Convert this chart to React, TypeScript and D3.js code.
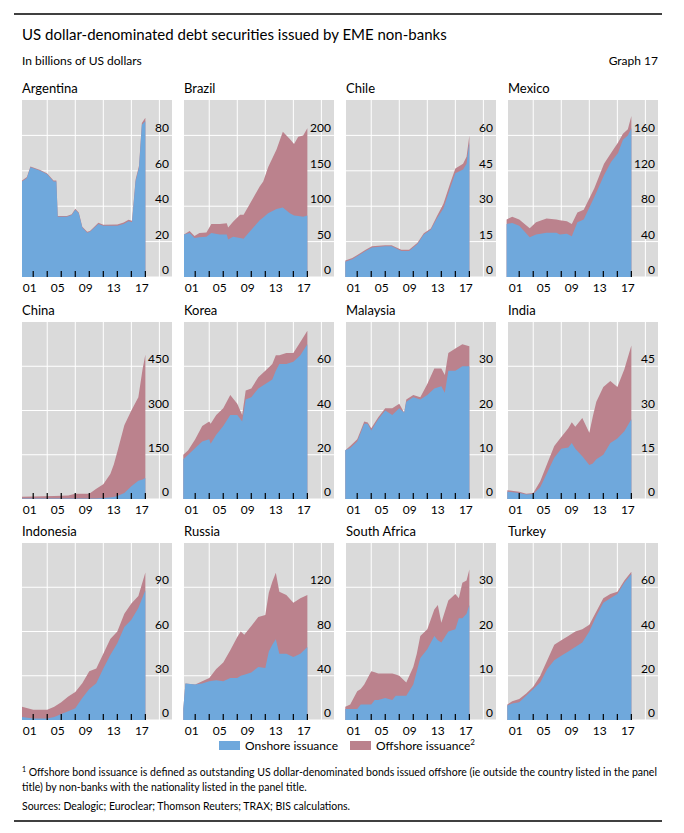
import React from 'react'
import * as d3 from 'd3'

// [year, onshore, total]
type Pt = [number, number, number]

const argentina: Pt[] = [[2000.4,54,54.5],[2001.1,56,56.5],[2001.6,62,62.5],[2003,60,60.5],[2004,58,58.5],[2004.9,54,54.5],[2005.3,54,54.5],[2005.5,34,34.4],[2006.8,34,34.4],[2007.5,35,35.4],[2008,38,38.5],[2008.5,36,36.5],[2009,28,28.4],[2009.7,25,25.5],[2010.1,25.5,26],[2011.3,30,30.6],[2012,29,29.5],[2014,29,29.6],[2014.9,30,30.8],[2015.6,31.5,32.3],[2016.1,31,31.8],[2016.6,54,55],[2017.1,62,63],[2017.5,86,87],[2018,88,90]]
const brazil: Pt[] = [[2000.4,60,60],[2001.2,62,65],[2001.9,55,58],[2002.6,56,62],[2003.6,57,63],[2004.3,62,75],[2005.5,60,75],[2006.5,60,76],[2006.7,53,70],[2007.4,57,78],[2008.4,55,88],[2008.9,54,88],[2009.6,62,100],[2011.2,80,128],[2011.7,84,135],[2012.4,90,155],[2013.6,96,180],[2014.5,98,205],[2015.5,90,195],[2016.1,87,188],[2016.7,86,198],[2017.4,85,200],[2018,87,210]]
const chile: Pt[] = [[2000.3,6.5,7],[2001.3,7.5,8],[2003.2,11,11.5],[2004.1,12.5,13],[2006,13,13.5],[2006.9,13,13.5],[2008.3,11,11.5],[2009.4,11,11.5],[2010.6,14,14.5],[2011.5,18,18.5],[2012.5,20,20.5],[2013.4,25,26],[2014.3,29,31],[2015.3,38,40],[2016,44,46],[2017.1,45.5,48],[2017.6,48,51],[2018,57,60]]
const mexico: Pt[] = [[2000.2,60,65],[2001,61,68],[2002,58,65],[2003.5,45,55],[2004.4,48,62],[2005.9,50,66],[2007.3,50,65],[2007.8,48,64],[2008.8,49,63],[2009.5,46,60],[2010.3,62,73],[2011.2,65,76],[2012.7,90,100],[2014.1,115,128],[2015.1,130,140],[2016.1,140,152],[2016.8,155,162],[2017.5,160,167],[2018,168,182]]
const china: Pt[] = [[2000.4,2,8],[2005,2,10],[2007,2,12],[2008,2,18],[2010,2,18],[2011,2,35],[2012,3,50],[2013,5,85],[2013.5,7,117],[2014,10,160],[2015,20,250],[2016,43,300],[2017,62,345],[2017.6,66,440],[2018,71,490]]
const korea: Pt[] = [[2000.3,18,20],[2001,20,22],[2002,23,27],[2003,26,33],[2004,27,35],[2004.2,25,34],[2005,29,38],[2006,33,41],[2007,38,47],[2008,38,43],[2008.7,35,38],[2009.2,45,49],[2010,46,50],[2011,50,55],[2012,52,58],[2013,54,61],[2013.5,58,65],[2014,61,65],[2015,61,66],[2016,62,66],[2017,65,71],[2018,70,76]]
const malaysia: Pt[] = [[2000.3,11,11],[2001,11.5,12],[2002,13,13.5],[2002.5,15,15.5],[2003,17,17.5],[2003.5,17,17.3],[2004,15.5,16],[2005,18,18.5],[2006,20,20.5],[2007,19,20.5],[2008,20.5,21.5],[2008.7,19.5,19.5],[2009,22,22.5],[2010,23,23.5],[2011,22.5,23],[2012,23.5,26],[2013,25,29.5],[2014,25.5,29.5],[2014.5,24,28],[2015,29,33],[2016,29,34],[2017,30,35],[2018,30,34.5]]
const india: Pt[] = [[2000.3,2.5,3],[2002,2,2.5],[2003,1.5,1.8],[2004,1.7,2],[2005,4,6],[2006,9,12],[2007,14,18],[2008,17,21],[2009,17.5,24],[2009.5,19,26],[2010,17,24.5],[2011,14.5,27.5],[2012,11.5,22.5],[2012.5,12,28],[2013,13.5,33],[2014,15,38],[2015,19,40],[2016,20.5,38],[2017,23,44],[2018,27,52]]
const indonesia: Pt[] = [[2000.4,2,9],[2002,1,7],[2004,1,7],[2005,2,9],[2006,4,12],[2007,6,16],[2008,8,19],[2009,15,25],[2010,21,33],[2011,25,35],[2012,35,45],[2013,44,55],[2014,52,60],[2015,63,72],[2016,68,79],[2017,76,84],[2018,88,100]]
const russia: Pt[] = [[2000.3,10,10],[2000.6,33,33],[2002,32,32],[2003,33,35],[2004,35,38],[2005,36,46],[2006,35,52],[2007,38,63],[2008,38,75],[2008.5,40,80],[2009,41,77],[2010,43,85],[2011,48,93],[2012,47,95],[2012.5,62,115],[2013,68,125],[2013.5,73,133],[2014,60,116],[2015,60,113],[2016,57,106],[2017,60,110],[2018,66,113]]
const southAfrica: Pt[] = [[2000.3,2.5,3],[2001,2.5,3.5],[2002,2.5,6.5],[2002.5,3.5,7],[2003,3.5,8],[2004,3.5,11],[2004.5,4.5,10.8],[2005,4.5,10.5],[2006,5,10.5],[2007,4.5,10.5],[2007.5,5.5,10.3],[2008,5.5,10],[2009,5.5,8.5],[2010,8,12],[2010.5,11,15],[2011,14,19],[2012,16,20.5],[2013,19,25],[2013.5,18,26],[2014,17.5,22],[2015,20,27],[2016,20.5,28.5],[2016.5,23,27.5],[2017,23,31],[2017.6,24,31.5],[2018,26,34]]
const turkey: Pt[] = [[2000.3,6.5,7],[2001,7.5,8.5],[2002,8,9.5],[2003,11,12],[2004,14,15],[2005,17,20],[2006,23,27],[2007,27,34],[2008,29,36],[2009,31,38],[2010,33,40],[2011,35,41],[2012,40,43],[2013,47,49],[2014,53,55],[2015,55,57],[2016,57,58],[2017,62,63],[2018,66,67]]

const countries = ['Argentina','Brazil','Chile','Mexico','China','Korea','Malaysia','India','Indonesia','Russia','South Africa','Turkey']
const series = [argentina, brazil, chile, mexico, china, korea, malaysia, india, indonesia, russia, southAfrica, turkey]
const yMax = [100, 250, 75, 200, 600, 80, 40, 60, 120, 160, 40, 80]
const yTicks = [[0,20,40,60,80],[0,50,100,150,200],[0,15,30,45,60],[0,40,80,120,160],[0,150,300,450],[0,20,40,60],[0,10,20,30],[0,15,30,45],[0,30,60,90],[0,40,80,120],[0,10,20,30],[0,20,40,60]]
const xLabels = ['01','05','09','13','17']

const BLUE = '#6fa8dc'
const PINK = '#bb828d'
const GRAY = '#dadada'
const FONT = 'Lato, "Open Sans", sans-serif'

const colX = [22, 184, 346, 508]
const rowY = [100, 322, 543]
const PW = 150
const PH = 177

function Panel({ i }: { i: number }) {
  const x0 = colX[i % 4]
  const y0 = rowY[Math.floor(i / 4)]
  const x = d3.scaleLinear().domain([2000.4, 2021.8]).range([x0, x0 + PW])
  const y = d3.scaleLinear().domain([0, yMax[i]]).range([y0 + PH, y0])
  const data = series[i]
  const total = d3.area<Pt>().x(d => x(d[0])).y0(y(0)).y1(d => y(d[2]))
  const on = d3.area<Pt>().x(d => x(d[0])).y0(y(0)).y1(d => y(d[1]))
  return (
    <g>
      <text x={x0} y={y0 - 7} fontSize={13}>{countries[i]}</text>
      <rect x={x0} y={y0} width={PW} height={PH} fill={GRAY} />
      {[2004, 2008, 2012, 2016, 2020].map(v => (
        <line key={v} x1={x(v)} x2={x(v)} y1={y0} y2={y0 + PH} stroke="#fff" strokeWidth={1} />
      ))}
      {yTicks[i].map(v => (
        <line key={v} x1={x0} x2={x0 + PW} y1={y(v)} y2={y(v)} stroke="#fff" strokeWidth={1} />
      ))}
      <path d={total(data) || ''} fill={PINK} />
      <path d={on(data) || ''} fill={BLUE} />
      {d3.range(2002, 2019, 2).map(v => (
        <line key={v} x1={x(v)} x2={x(v)} y1={y0 + PH} y2={y0 + PH - 6} stroke="#000" strokeWidth={1.2} />
      ))}
      {yTicks[i].map(v => (
        <text key={v} x={x0 + PW - 3} y={y(v) - 3} fontSize={12} textAnchor="end">{v}</text>
      ))}
      {xLabels.map(l => (
        <text key={l} x={x(2000 + +l + 0.5)} y={y0 + PH + 15} fontSize={12} textAnchor="middle">{l}</text>
      ))}
    </g>
  )
}

export default function App() {
  return (
    <svg width={684} height={833} style={{ display: 'block', position: 'absolute', left: 0, top: 0 }} fontFamily={FONT} fill="#000">
      <line x1={14} x2={662} y1={14} y2={14} stroke="#000" strokeWidth={1.5} />
      <text x={22} y={40} fontSize={15}>US dollar-denominated debt securities issued by EME non-banks</text>
      <text x={22} y={65} fontSize={12}>In billions of US dollars</text>
      <text x={658} y={65} fontSize={12} textAnchor="end">Graph 17</text>
      {countries.map((_, i) => <Panel key={i} i={i} />)}
      <rect x={219} y={741} width={21} height={9} fill={BLUE} />
      <text x={245} y={750} fontSize={12}>Onshore issuance</text>
      <rect x={350} y={741} width={21} height={9} fill={PINK} />
      <text x={376} y={750} fontSize={12}>Offshore issuance<tspan fontSize={8} dy={-5}>2</tspan></text>
      <text x={22} y={776} fontSize={10.5}><tspan fontSize={7} dy={-4}>1</tspan><tspan dy={4}>  Offshore bond issuance is defined as outstanding US dollar-denominated bonds issued offshore (ie outside the country listed in the panel</tspan></text>
      <text x={22} y={791} fontSize={10.5}>title) by non-banks with the nationality listed in the panel title.</text>
      <text x={22} y={810} fontSize={10.5}>Sources: Dealogic; Euroclear; Thomson Reuters; TRAX; BIS calculations.</text>
      <line x1={14} x2={662} y1={821} y2={821} stroke="#000" strokeWidth={1.5} />
    </svg>
  )
}
